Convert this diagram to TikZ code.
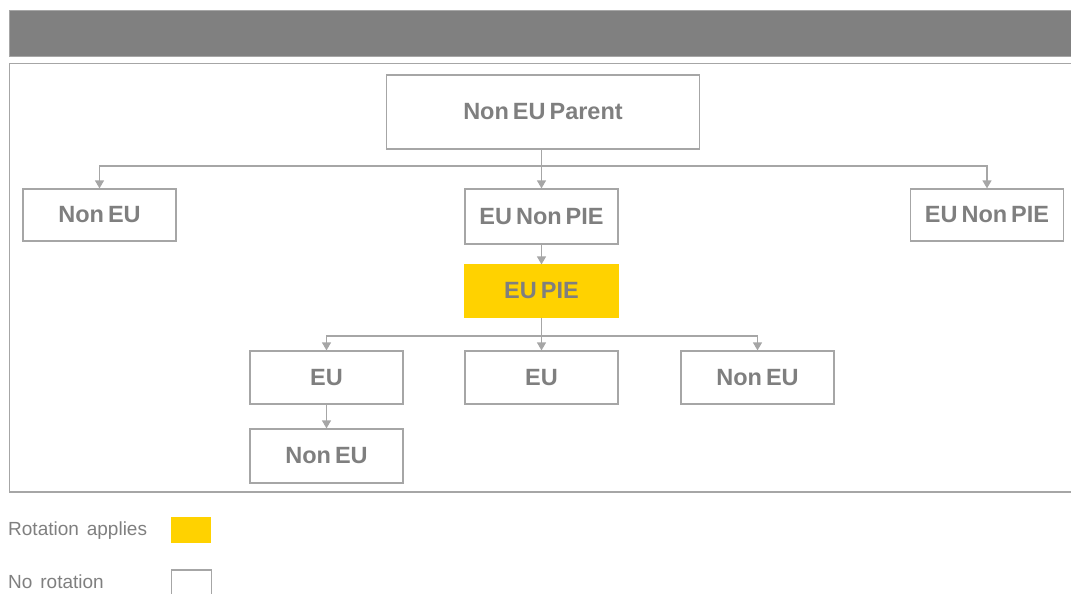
\documentclass[tikz,border=0pt]{standalone}
\usepackage{fontspec}
\setmainfont{Liberation Sans}
\newfontfamily\keyfont{Liberation Sans}[WordSpace=1.5]
\newcommand\boxtext{\bfseries\fontsize{23.5}{24}\selectfont\spaceskip=4pt plus 1pt\relax}
\usetikzlibrary{arrows.meta}
\definecolor{txtgray}{HTML}{7F7F7F}
\definecolor{linegray}{HTML}{A6A6A6}
\definecolor{bargray}{HTML}{808080}
\definecolor{pieyellow}{HTML}{FFD200}
\tikzset{
  entity/.style={draw=linegray, line width=1.2pt, minimum width=153pt, minimum height=53pt,
    inner sep=0pt, text=txtgray, font=\boxtext},
  rotated/.style={entity, fill=pieyellow, draw=pieyellow},
  link/.style={draw=linegray, line width=1.2pt, -{Triangle[width=9pt,length=8pt]}},
  legendtext/.style={anchor=west, inner sep=0pt, text=txtgray, font=\keyfont\fontsize{19}{19}\selectfont},
}
\begin{document}
\begin{tikzpicture}[x=1pt,y=-1pt]
  \useasboundingbox (0,0) rectangle (1071,594);
  % header bar and frame
  \draw[fill=bargray, draw=linegray, line width=1pt] (9.5,10.5) rectangle (1085,57);
  \draw[draw=linegray, line width=1.5pt] (9.5,63.5) rectangle (1085,492);
  % entities
  \draw
    (543,112) node[entity, minimum width=313pt, minimum height=74pt] (parent){Non EU Parent}
    (99.5,215) node[entity, minimum height=52pt] (noneuA){Non EU}
    (541.5,216.5) node[entity, minimum height=55pt] (nonpieA){EU Non PIE}
    (987,215) node[entity, minimum height=52pt] (nonpieB){EU Non PIE}
    (541.5,291) node[rotated, minimum height=52pt] (pie){EU PIE}
    (326.5,377.5) node[entity] (euA){EU}
    (541.5,377.5) node[entity] (euB){EU}
    (757.5,377.5) node[entity] (noneuB){Non EU}
    (326.5,456) node[entity, minimum height=54pt] (noneuC){Non EU};
  \coordinate (busA) at (0,166);
  \coordinate (busB) at (0,336);
  \begin{scope}[link]
    \draw (nonpieA.north |- parent.south) -- (nonpieA.north |- busA) -| (noneuA.north);
    \draw (nonpieA.north |- parent.south) -- (nonpieA.north);
    \draw (nonpieA.north |- parent.south) -- (nonpieA.north |- busA) -| (nonpieB.north);
    \draw (nonpieA.south) -- (pie.north);
    \draw (pie.south) -- (pie.south |- busB) -| (euA.north);
    \draw (pie.south) -- (euB.north);
    \draw (pie.south) -- (pie.south |- busB) -| (noneuB.north);
    \draw (euA.south) -- (noneuC.north);
  \end{scope}
  % legend
  \node[legendtext] (rotlabel) at (8,531) {Rotation applies};
  \node[legendtext] (norotlabel) at (8,582) {No rotation};
  \node[fill=pieyellow, minimum width=40pt, minimum height=26pt, inner sep=0pt] (rotkey) at (191,530) {};
  \node[draw=linegray, line width=1.2pt, minimum width=40pt, minimum height=30pt, inner sep=0pt] (norotkey) at (191.5,585) {};
\end{tikzpicture}
\end{document}
